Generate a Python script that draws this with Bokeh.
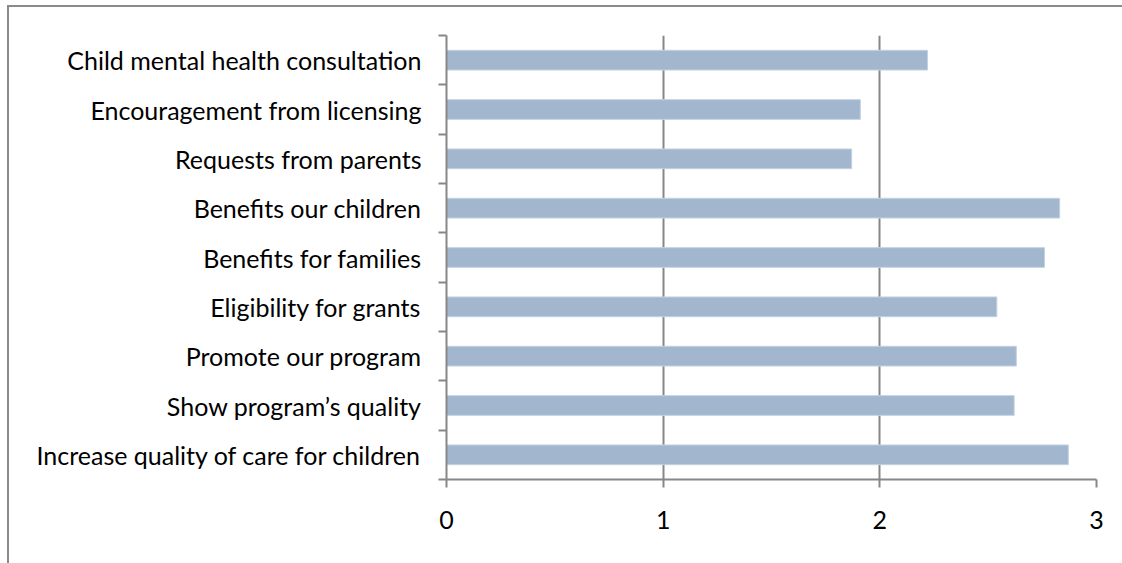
from bokeh.plotting import figure
from bokeh.models import FixedTicker, Range1d
from bokeh.embed import file_html
from bokeh.resources import INLINE

categories = [
    "Child mental health consultation",
    "Encouragement from licensing",
    "Requests from parents",
    "Benefits our children",
    "Benefits for families",
    "Eligibility for grants",
    "Promote our program",
    "Show program\u2019s quality",
    "Increase quality of care for children",
]
values = [2.22, 1.91, 1.87, 2.83, 2.76, 2.54, 2.63, 2.62, 2.87]
x_ticks = [0, 1, 2, 3]

n = len(categories)
ypos = [n - 0.5 - i for i in range(n)]
boundaries = list(range(n + 1))

FONT = "Lato"
GREY = "#878787"

p = figure(
    width=1113, height=556,
    x_range=Range1d(0, 3), y_range=Range1d(0, n),
    output_backend="svg", toolbar_location=None,
    min_border_left=437, min_border_right=26,
    min_border_top=28, min_border_bottom=84,
)
p.frame_width = 650
p.frame_height = 444
p.styles = {
    "margin-left": "7px", "margin-top": "5px",
    "border-top": "2px solid #8a8a8a", "border-left": "2px solid #8a8a8a",
}
p.outline_line_color = None
p.background_fill_color = "white"

p.hbar(y=ypos, right=values, left=0, height=0.4,
       fill_color="#A2B7CE", line_color="#C3D2E2", line_width=1)

# x axis
p.xaxis.ticker = FixedTicker(ticks=x_ticks)
p.xaxis.axis_line_color = GREY
p.xaxis.axis_line_width = 2
p.xaxis.major_tick_line_color = GREY
p.xaxis.major_tick_line_width = 2
p.xaxis.major_tick_in = 0
p.xaxis.major_tick_out = 8
p.xaxis.minor_tick_line_color = None
p.xaxis.major_label_standoff = 23
p.xaxis.major_label_text_font = FONT
p.xaxis.major_label_text_font_size = "25px"
p.xaxis.major_label_text_color = "black"

# y axis: labels at centres, ticks at boundaries
p.yaxis.ticker = FixedTicker(ticks=ypos, minor_ticks=boundaries)
p.yaxis.major_label_overrides = {y: c for y, c in zip(ypos, categories)}
p.yaxis.axis_line_color = GREY
p.yaxis.axis_line_width = 2
p.yaxis.major_tick_line_color = None
p.yaxis.major_tick_in = 0
p.yaxis.major_tick_out = 0
p.yaxis.minor_tick_line_color = GREY
p.yaxis.minor_tick_line_width = 2
p.yaxis.minor_tick_in = 0
p.yaxis.minor_tick_out = 8
p.yaxis.major_label_standoff = 17
p.yaxis.major_label_text_font = FONT
p.yaxis.major_label_text_font_size = "25px"
p.yaxis.major_label_text_color = "black"

p.xgrid.ticker = FixedTicker(ticks=x_ticks)
p.xgrid.grid_line_color = GREY
p.xgrid.grid_line_width = 2
p.ygrid.grid_line_color = None

open("out.html", "w").write(file_html(p, INLINE))
